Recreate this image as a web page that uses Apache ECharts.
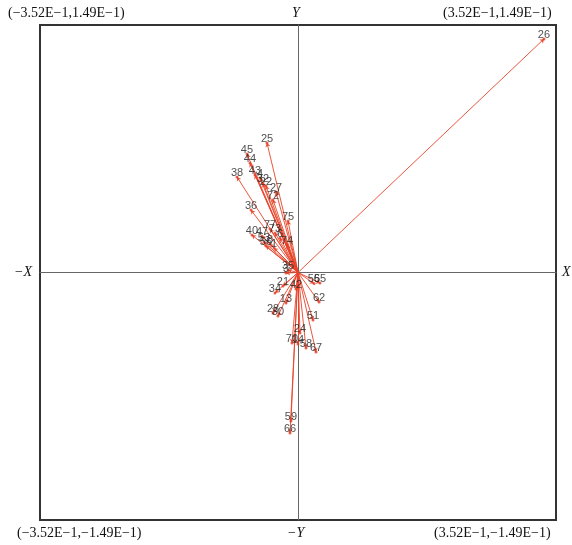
<!DOCTYPE html>
<html>
<head>
<meta charset="utf-8">
<script src="https://cdn.jsdelivr.net/npm/echarts@6/dist/echarts.min.js"></script>
<style>
  html, body { margin: 0; padding: 0; background: #fff; }
  #main { width: 572px; height: 545px; }
</style>
</head>
<body>
<div id="main"></div>
<script>
// sample numbers and their loadings
const ids = ['26', '25', '45', '44', '38', '43', '4', '32', '22', '27', '72', '75', '36', '40', '77', '47', '73', '6', '53', '56', '8', '74', '1', '35', '3', '55', '65', '34', '21', '42', '62', '13', '28', '30', '51', '24', '70', '14', '58', '67', '59', '66']
const xVals = [0.3356, -0.0423, -0.0696, -0.0655, -0.0832, -0.0587, -0.0518, -0.0478, -0.0437, -0.0300, -0.0341, -0.0136, -0.0641, -0.0628, -0.0382, -0.0491, -0.0314, -0.0246, -0.0464, -0.0437, -0.0382, -0.0150, -0.0327, -0.0136, -0.0164, 0.0218, 0.0300, -0.0314, -0.0205, -0.0027, 0.0287, -0.0164, -0.0341, -0.0273, 0.0205, 0.0027, -0.0082, 0.0000, 0.0109, 0.0246, -0.0096, -0.0109]
const yVals = [0.1406, 0.0780, 0.0713, 0.0659, 0.0575, 0.0587, 0.0569, 0.0539, 0.0521, 0.0485, 0.0437, 0.0310, 0.0376, 0.0226, 0.0262, 0.0220, 0.0238, 0.0208, 0.0184, 0.0160, 0.0172, 0.0166, 0.0148, 0.0015, -0.0003, -0.0066, -0.0063, -0.0123, -0.0081, -0.0099, -0.0178, -0.0184, -0.0244, -0.0262, -0.0286, -0.0364, -0.0424, -0.0431, -0.0455, -0.0479, -0.0894, -0.0966]
const xMin = -0.352
const xMax = 0.352
const yMin = -0.149
const yMax = 0.149

const chart = echarts.init(document.getElementById('main'))

const vectors = ids.map((id, i) => {
  return { coords: [[0, 0], [xVals[i], yVals[i]]] }
})
const points = ids.map((id, i) => [xVals[i], yVals[i], id])

const serif = '"Liberation Serif", "DejaVu Serif", serif'
const txt = (text, x, y, align, italic) => ({
  type: 'text',
  left: x,
  top: y,
  style: { text, fill: '#111', font: (italic ? 'italic ' : '') + '14px ' + serif, textAlign: align }
})

const option = {
  animation: false,
  grid: {
    left: 40, right: 16, top: 25, bottom: 25,
    show: true, borderColor: '#333', borderWidth: 2
  },
  xAxis: {
    type: 'value', min: xMin, max: xMax,
    axisLine: { onZero: true, lineStyle: { color: '#666', width: 1 } },
    axisTick: { show: false }, axisLabel: { show: false }, splitLine: { show: false }
  },
  yAxis: {
    type: 'value', min: yMin, max: yMax,
    axisLine: { onZero: true, lineStyle: { color: '#666', width: 1 } },
    axisTick: { show: false }, axisLabel: { show: false }, splitLine: { show: false }
  },
  graphic: [
    txt('(\u22123.52E\u22121,1.49E\u22121)', 8, 6),
    txt('Y', 292, 6, 'left', true),
    txt('(3.52E\u22121,1.49E\u22121)', 443, 6),
    txt('\u2212X', 14, 265, 'left', true),
    txt('X', 562, 265, 'left', true),
    txt('(\u22123.52E\u22121,\u22121.49E\u22121)', 17, 526),
    txt('\u2212Y', 287, 526, 'left', true),
    txt('(3.52E\u22121,\u22121.49E\u22121)', 434, 526)
  ],
  series: [{
    type: 'lines',
    coordinateSystem: 'cartesian2d',
    silent: true,
    symbol: ['none', 'arrow'],
    symbolSize: 4,
    lineStyle: { color: '#e8442a', width: 1, opacity: 0.9 },
    data: vectors,
    z: 2
  }, {
    type: 'scatter',
    silent: true,
    symbolSize: 3,
    itemStyle: { color: '#e5391f' },
    label: {
      show: true, position: 'top', distance: 0, offset: [0, 3],
      formatter: p => p.data[2],
      color: '#222', fontSize: 11, fontFamily: 'Arial, "Liberation Sans", sans-serif'
    },
    data: points,
    z: 3
  }]
}

chart.setOption(option)
</script>
</body>
</html>
